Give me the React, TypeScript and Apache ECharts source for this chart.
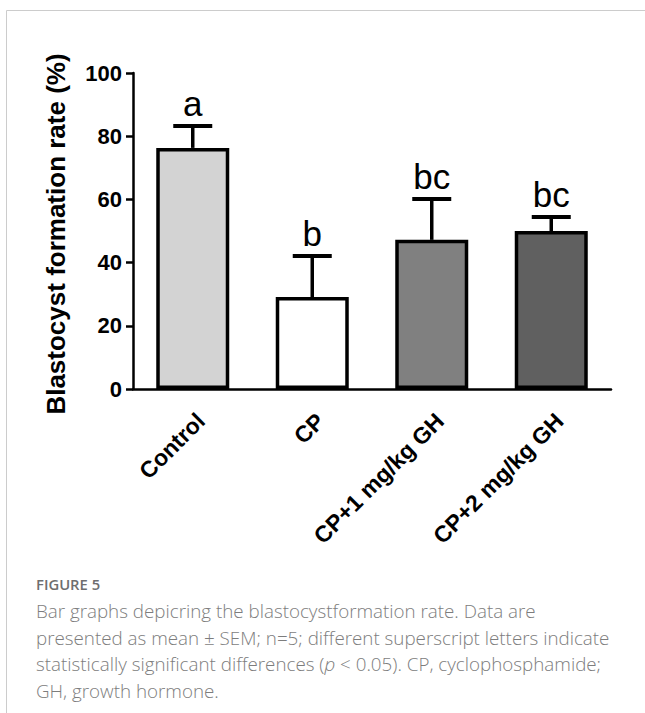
import React, { useEffect, useRef } from "react";
import * as echarts from "echarts";

const categories = ["Control", "CP", "CP+1 mg/kg GH", "CP+2 mg/kg GH"];
const means = [76.3, 29.1, 47.2, 50.0];
const sems = [6.9, 13.0, 12.9, 4.4];
const letters = ["a", "b", "bc", "bc"];
const barColors = ["#d3d3d3", "#ffffff", "#808080", "#606060"];
const yTicks = [0, 20, 40, 60, 80, 100];
const yTitle = "Blastocyst formation rate (%)";
const captionHead = "FIGURE 5";
const captionLines = [
  "Bar graphs depicring the blastocystformation rate. Data are",
  "presented as mean \u00b1 SEM; n=5; different superscript letters indicate",
  "statistically significant differences ({i|p} < 0.05). CP, cyclophosphamide;",
  "GH, growth hormone.",
];

const ARIAL = '"Liberation Sans", Arial, sans-serif';
const CAPFONT = '"Open Sans", sans-serif';

export default function App() {
  const ref = useRef<HTMLDivElement>(null);
  useEffect(() => {
    if (!ref.current) return;
    const chart = echarts.init(ref.current, null, { renderer: "svg" });
    const option: any = {
      animation: false,
      backgroundColor: "#ffffff",
      grid: { left: 133, right: 34, top: 73, bottom: 324, containLabel: false },
      xAxis: {
        type: "category",
        data: categories,
        boundaryGap: true,
        axisLine: { lineStyle: { color: "#000", width: 2.5 } },
        axisTick: { alignWithLabel: true, length: 6, lineStyle: { color: "#000", width: 2.5 } },
        axisLabel: {
          rotate: 45,
          interval: 0,
          margin: 20,
          verticalAlign: "top",
          color: "#000",
          fontFamily: ARIAL,
          fontWeight: "bold",
          fontSize: 23,
        },
      },
      yAxis: {
        type: "value",
        min: yTicks[0],
        max: yTicks[yTicks.length - 1],
        interval: yTicks[1] - yTicks[0],
        splitLine: { show: false },
        axisLine: { show: true, lineStyle: { color: "#000", width: 2.5 } },
        axisTick: { show: true, length: 7, lineStyle: { color: "#000", width: 2.5 } },
        axisLabel: {
          margin: 11,
          color: "#000",
          fontFamily: ARIAL,
          fontWeight: "bold",
          fontSize: 22,
        },
      },
      series: [
        {
          type: "bar",
          barWidth: 73,
          z: 2,
          data: means.map((v, i) => ({
            value: v,
            itemStyle: { color: barColors[i], borderColor: "#000", borderWidth: 3.5 },
          })),
        },
        {
          type: "custom",
          z: 3,
          data: means.map((v, i) => [i, v, sems[i]]),
          renderItem: (params: any, api: any) => {
            const idx = params.dataIndex;
            const base = api.coord([api.value(0), api.value(1)]);
            const top = api.coord([api.value(0), api.value(1) + api.value(2)]);
            return {
              type: "group",
              children: [
                {
                  type: "line",
                  shape: { x1: base[0], y1: base[1], x2: base[0], y2: top[1] },
                  style: { stroke: "#000", lineWidth: 3.5 },
                },
                {
                  type: "line",
                  shape: { x1: base[0] - 19.5, y1: top[1], x2: base[0] + 19.5, y2: top[1] },
                  style: { stroke: "#000", lineWidth: 4 },
                },
                {
                  type: "text",
                  x: base[0],
                  y: top[1] - 5,
                  style: {
                    text: letters[idx],
                    fontFamily: ARIAL,
                    fontSize: 35,
                    fill: "#000",
                    align: "center",
                    verticalAlign: "bottom",
                  },
                },
              ],
            };
          },
        },
      ],
      graphic: [
        {
          type: "line",
          shape: { x1: 6.5, y1: 10.5, x2: 645, y2: 10.5 },
          style: { stroke: "#cccccc", lineWidth: 1 },
        },
        {
          type: "line",
          shape: { x1: 6.5, y1: 10.5, x2: 6.5, y2: 713 },
          style: { stroke: "#cccccc", lineWidth: 1 },
        },
        {
          type: "text",
          x: 56,
          y: 234,
          rotation: Math.PI / 2,
          style: {
            text: yTitle,
            fontFamily: ARIAL,
            fontWeight: "bold",
            fontSize: 26,
            fill: "#000",
            align: "center",
            verticalAlign: "middle",
          },
        },
        {
          type: "text",
          x: 36,
          y: 584,
          style: {
            text: captionHead,
            fontFamily: CAPFONT,
            fontWeight: 600,
            fontSize: 14.8,
            fill: "#6e6e6e",
            align: "left",
            verticalAlign: "middle",
          },
        },
        ...captionLines.map((t, i) => ({
          type: "text",
          x: 36,
          y: 611 + i * 26.5,
          style: {
            text: t,
            fontFamily: CAPFONT,
            fontWeight: 300,
            fontSize: 18.8,
            fill: "#7d7d7d",
            align: "left",
            verticalAlign: "middle",
            rich: {
              i: { fontFamily: CAPFONT, fontWeight: 300, fontSize: 18.8, fontStyle: "italic", fill: "#7d7d7d" },
            },
          },
        })),
      ],
    };
    chart.setOption(option);
    return () => chart.dispose();
  }, []);
  return (
    <div
      ref={ref}
      style={{ position: "absolute", left: 0, top: 0, width: 645, height: 713 }}
    />
  );
}
